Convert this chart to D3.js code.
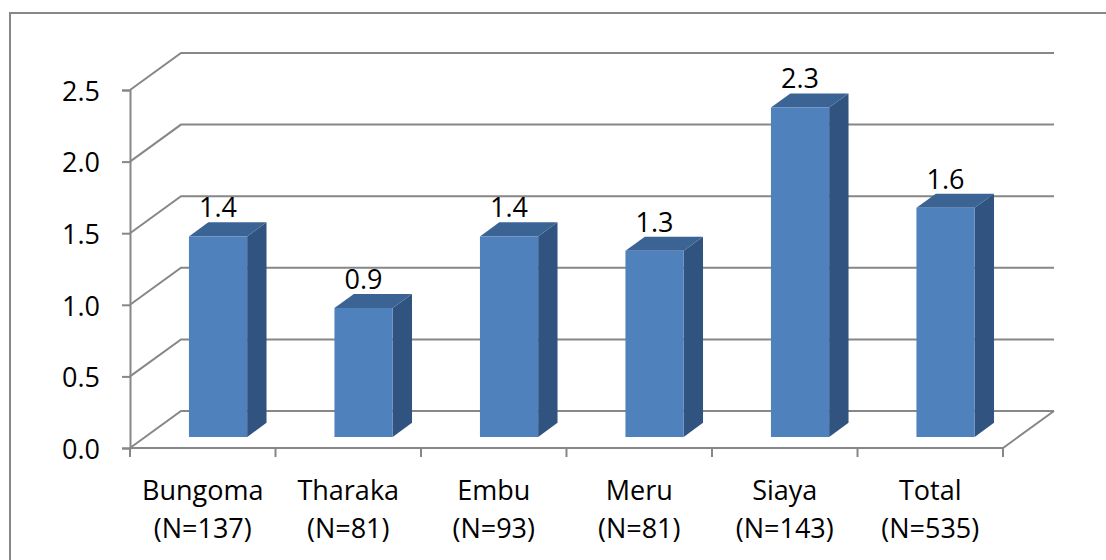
<!DOCTYPE html>
<html>
<head>
<meta charset="utf-8">
<script src="https://cdn.jsdelivr.net/npm/d3@7"></script>
<style>
  html, body { margin: 0; padding: 0; background: #ffffff; }
  svg text { font-family: "Open Sans", "Noto Sans", sans-serif; fill: #000; }
</style>
</head>
<body>
<svg id="chart" width="1106" height="560"></svg>
<script>
// Mean values per county, with sample sizes shown under each name
const categories = ["Bungoma", "Tharaka", "Embu", "Meru", "Siaya", "Total"];
const sampleSizes = [137, 81, 93, 81, 143, 535];
const values = [1.4, 0.9, 1.4, 1.3, 2.3, 1.6];
const yTicks = [0, 0.5, 1.0, 1.5, 2.0, 2.5];

const svg = d3.select("#chart");
const fontSize = 27;

// Plot frame of the 3-D box: front plane plus the depth offset to the back wall
const left = 130, right = 1003, floorY = 448, topY = 90;
const depthX = 51, depthY = -37;

const x = d3.scaleBand().domain(categories).range([left, right]).padding(0);
const y = d3.scaleLinear().domain([0, 2.5]).range([floorY, topY]);

// project a (screen x, depth fraction, value) point
const P = (px, d, v) => [px + d * depthX, y(v) + d * depthY];

const gridColor = "#878787";

// outer chart border
svg.append("rect")
  .attr("x", 10).attr("y", 13)
  .attr("width", 1110).attr("height", 560)
  .attr("fill", "none").attr("stroke", gridColor).attr("stroke-width", 2);

const grid = svg.append("g").attr("fill", "none").attr("stroke", gridColor).attr("stroke-width", 2);

// back-wall gridlines and left-wall diagonals
yTicks.forEach(t => {
  const a = P(left, 0, t), b = P(left, 1, t), c = P(right, 1, t);
  grid.append("path").attr("d", d3.line()([a, b, c]));
});

// floor front edge and right diagonal
grid.append("path").attr("d", d3.line()([P(left, 0, 0), P(right, 0, 0), P(right, 1, 0)]));

// vertical value axis on the front plane
const yAxis = d3.axisLeft(y).tickValues(yTicks).tickFormat(d3.format(".1f")).tickSize(8).tickPadding(22);
const gy = svg.append("g").attr("transform", `translate(${left},0)`).call(yAxis);
gy.attr("font-size", null).attr("font-family", null);
gy.select(".domain").attr("stroke", gridColor).attr("stroke-width", 2);
gy.selectAll(".tick line").attr("stroke", gridColor).attr("stroke-width", 2);
gy.selectAll(".tick text").attr("font-size", fontSize).attr("fill", "#000").attr("dy", "0.38em");

// category axis ticks at band boundaries
const boundaries = categories.map(c => x(c)).concat([right]);
svg.append("g").selectAll("line").data(boundaries).join("line")
  .attr("x1", d => d).attr("x2", d => d)
  .attr("y1", floorY).attr("y2", floorY + 9)
  .attr("stroke", gridColor).attr("stroke-width", 2);

// category labels, two lines each
const labels = svg.append("g").attr("text-anchor", "middle").attr("font-size", fontSize);
categories.forEach((c, i) => {
  const cx = x(c) + x.bandwidth() / 2;
  const t = labels.append("text").attr("x", cx).attr("y", 500);
  t.append("tspan").attr("x", cx).text(c);
  t.append("tspan").attr("x", cx).attr("dy", 38).text(`(N=${sampleSizes[i]})`);
});

// 3-D bars: front face, top face, right side face
const barFrac = 0.4, d0 = 0.3, d1 = 0.68;
const bars = svg.append("g");
categories.forEach((c, i) => {
  const v = values[i];
  const x0 = x(c) + x.bandwidth() * (1 - barFrac) / 2;
  const x1 = x0 + x.bandwidth() * barFrac;
  const line = d3.line();
  const g = bars.append("g");
  // side
  g.append("path").attr("fill", "#30537f")
    .attr("d", line([P(x1, d0, 0), P(x1, d1, 0), P(x1, d1, v), P(x1, d0, v)]) + "Z");
  // top
  g.append("path").attr("fill", "#3b6494")
    .attr("d", line([P(x0, d0, v), P(x1, d0, v), P(x1, d1, v), P(x0, d1, v)]) + "Z");
  // front
  g.append("path").attr("fill", "#4f81bd")
    .attr("d", line([P(x0, d0, 0), P(x1, d0, 0), P(x1, d0, v), P(x0, d0, v)]) + "Z");
  // value label
  const top = P(x0, d1, v);
  svg.append("text")
    .attr("x", P((x0 + x1) / 2, d0, v)[0])
    .attr("y", top[1] - 5)
    .attr("text-anchor", "middle").attr("font-size", fontSize)
    .text(d3.format(".1f")(v));
});
</script>
</body>
</html>
